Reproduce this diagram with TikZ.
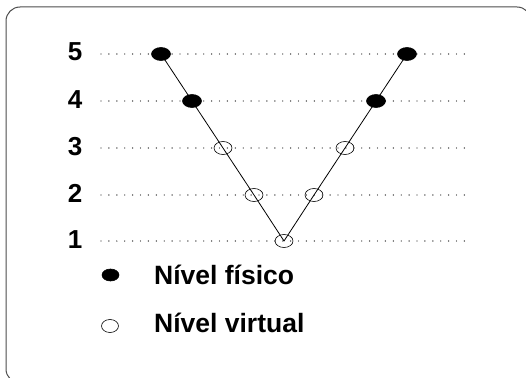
\documentclass[tikz,border=0pt]{standalone}
\usepackage{fontspec}
\setmainfont{Liberation Sans}
\usetikzlibrary{shapes.geometric}
\begin{document}
\begin{tikzpicture}[x=1pt,y=-1pt,
  lvl/.style={font=\fontsize{26}{30}\selectfont\bfseries, anchor=base, inner sep=0pt},
  leg/.style={font=\fontsize{26.5}{30}\selectfont\bfseries, anchor=base west, inner sep=0pt},
  guide/.style={line width=1.4pt, dash pattern=on 0pt off 7.9pt, line cap=round, black!85},
  phys/.style={ellipse, draw, fill=black, minimum width=19pt, minimum height=13pt, inner sep=0pt, line width=0.6pt},
  virt/.style={ellipse, draw, minimum width=18pt, minimum height=13pt, inner sep=0pt, line width=0.6pt},
  frame/.style={draw=black!70, line width=1pt, rounded corners=14pt}
]
\useasboundingbox (0,0) rectangle (526,377);
\begin{scope}
\clip (0,0) rectangle (526,377);
\draw[frame] (6,7) rectangle (531,383);
\end{scope}
% guide lines and level labels
\foreach \n/\y in {5/54,4/101,3/148,2/195,1/241}{
  \coordinate (gl\n) at (101,\y);
  \coordinate (gr\n) at (466,\y);
  \draw[guide] (gl\n) -- (gr\n);
  \node[lvl] (lab\n) at (75,\y+7) {\n};
}
% level points
\coordinate (L5) at (161,54);
\coordinate (L4) at (192,101);
\coordinate (L3) at (223,148);
\coordinate (L2) at (254,195);
\coordinate (B1) at (284,241);
\coordinate (R2) at (314,195);
\coordinate (R3) at (345,148);
\coordinate (R4) at (376,101);
\coordinate (R5) at (407,54);
\draw[line width=0.8pt] (L5) -- (L4) -- (L3) -- (L2) -- (B1) -- (R2) -- (R3) -- (R4) -- (R5);
\node[phys] (nL5) at (L5) {};
\node[phys] (nL4) at (L4) {};
\node[virt] (nL3) at (L3) {};
\node[virt] (nL2) at (L2) {};
\node[virt] (nB1) at (B1) {};
\node[virt] (nR2) at (R2) {};
\node[virt] (nR3) at (R3) {};
\node[phys] (nR4) at (R4) {};
\node[phys] (nR5) at (R5) {};
% legend
\node[phys, minimum width=17pt, minimum height=12pt] (legp) at (110.5,275) {};
\node[virt, minimum width=17pt, minimum height=13pt] (legv) at (110,326) {};
\node[leg] (legpt) at (154,284) {Nível físico};
\node[leg] (legvt) at (154,332) {Nível virtual};
\end{tikzpicture}
\end{document}
